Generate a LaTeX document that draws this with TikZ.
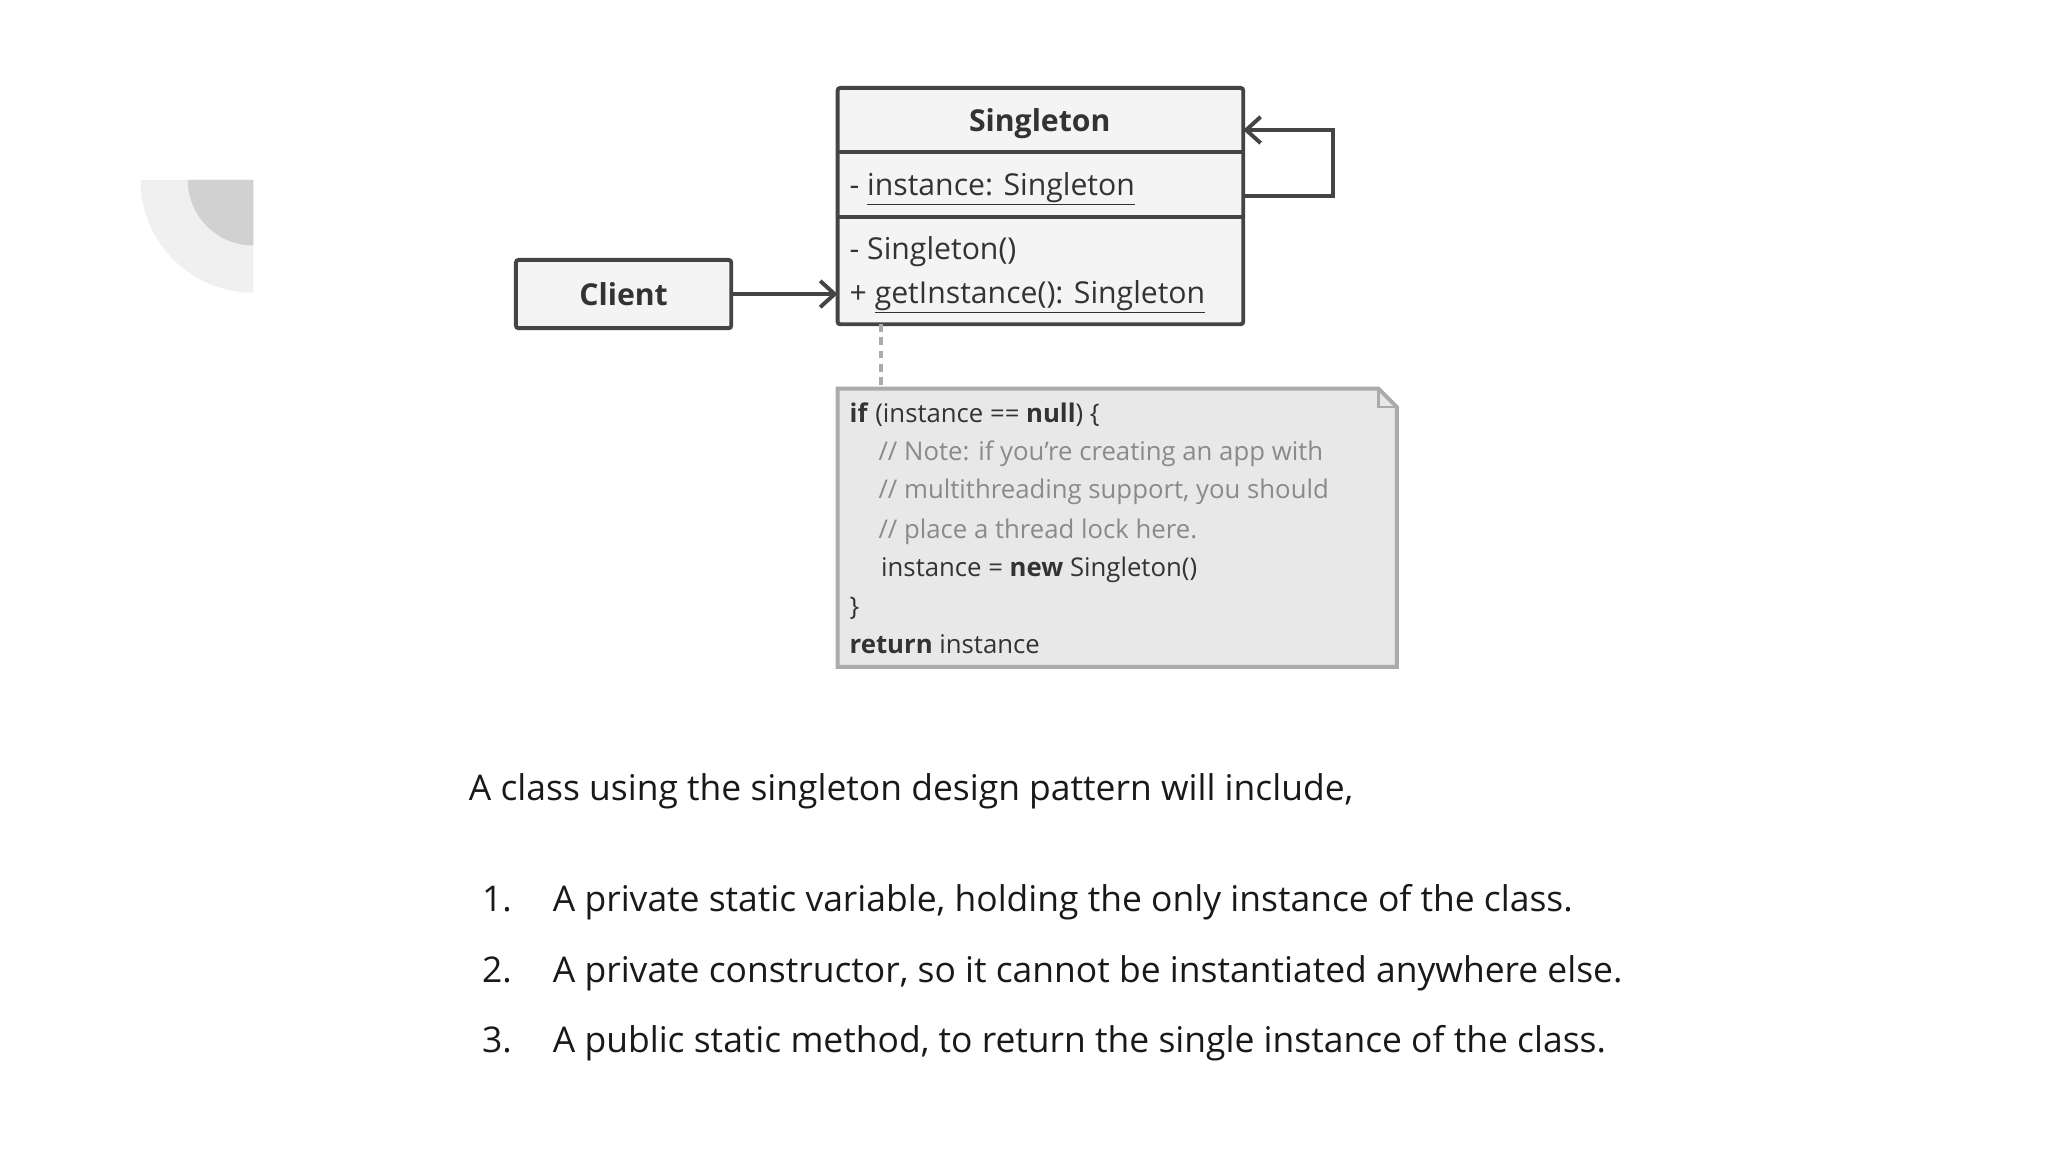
\documentclass[tikz,border=0pt]{standalone}
\usepackage{fontspec}
\setmainfont{Open Sans}
\usetikzlibrary{positioning,arrows.meta,shapes.misc}
\definecolor{umlline}{HTML}{444444}
\definecolor{umlfill}{HTML}{F4F4F4}
\definecolor{notefill}{HTML}{E8E8E8}
\definecolor{noteline}{HTML}{ABABAB}
\definecolor{commentgray}{HTML}{8A8A8A}
\tikzset{
  umlbox/.style={draw=umlline, fill=umlfill, line width=3pt, rounded corners=2pt, inner sep=0pt},
  umltext/.style={anchor=base west, inner sep=0pt, text=black!80, font=\fontsize{23}{27}\selectfont},
  notetext/.style={anchor=base west, inner sep=0pt, text=black!80, font=\fontsize{19.6}{22}\selectfont},
  bodytext/.style={anchor=base west, inner sep=0pt, text=black!90, font=\fontsize{27}{31}\selectfont},
  assoc/.style={draw=umlline, line width=3pt, -{Straight Barb[length=11pt,width=20pt,line width=3pt]}},
}
\begin{document}
\begin{tikzpicture}[x=1pt, y=-1pt]
  \useasboundingbox (0,0) rectangle (1560,878);
  % decoration
  \fill[black!6] (193,137) -- (107,137) arc[start angle=180, end angle=90, radius=86] -- cycle;
  \fill[black!18] (193,137) -- (143,137) arc[start angle=180, end angle=90, radius=50] -- cycle;

  % Singleton class
  \draw[umlbox] (638,67) rectangle (947,247);
  \draw[umlline, line width=3pt] (638,116) -- (947,116);
  \draw[umlline, line width=3pt] (638,165) -- (947,165);
  \coordinate (single top) at (947,99);
  \coordinate (single attr) at (947,149);
  \node[umltext, anchor=base, font=\bfseries\fontsize{23}{27}\selectfont] (single name) at (792,100) {Singleton};
  \node[umltext] (single field) at (647,149) {- \underline{instance: Singleton}};
  \node[umltext] (single ctor) at (647,198) {- Singleton()};
  \node[umltext] (single get) at (647,231) {+ \underline{getInstance(): Singleton}};
  \draw[assoc] (single attr) -- (1015,149) -- (1015,99) -- (single top);

  % Client
  \node[umlbox, minimum width=164pt, minimum height=52pt, font=\bfseries\fontsize{23}{27}\selectfont, text=black!80] (client) at (475,224) {Client};
  \coordinate (single left) at (638,224);
  \draw[assoc] (client.east) -- (single left);

  % note
  \draw[noteline, line width=3pt, fill=notefill] (638,296) -- (1050,296) -- (1064,310) -- (1064,508) -- (638,508) -- cycle;
  \draw[noteline, line width=2pt] (1050,296) -- (1050,310) -- (1064,310);
  \coordinate (note top) at (671,296);
  \coordinate (single bottom) at (671,247);
  \draw[noteline, line width=3pt, dash pattern=on 6pt off 4pt] (single bottom) -- (note top);
  \node[notetext] (line1) at (647,322) {\textbf{if} (instance == \textbf{null}) \{};
  \node[notetext, text=commentgray] (line2) at (669,351) {// Note: if you’re creating an app with};
  \node[notetext, text=commentgray] (line3) at (669,380) {// multithreading support, you should};
  \node[notetext, text=commentgray] (line4) at (669,410) {// place a thread lock here.};
  \node[notetext] (line5) at (671,439) {instance = \textbf{new} Singleton()};
  \node[notetext] (line6) at (647,469) {\}};
  \node[notetext] (line7) at (647,498) {\textbf{return} instance};

  % text
  \node[bodytext] (intro) at (357,610) {A class using the singleton design pattern will include,};
  \foreach \n/\y/\t in {1/694/{A private static variable, holding the only instance of the class.},
                        2/748/{A private constructor, so it cannot be instantiated anywhere else.},
                        3/802/{A public static method, to return the single instance of the class.}} {
    \node[bodytext] (num\n) at (367,\y) {\n.};
    \node[bodytext] (item\n) at (421,\y) {\t};
  }
\end{tikzpicture}
\end{document}
